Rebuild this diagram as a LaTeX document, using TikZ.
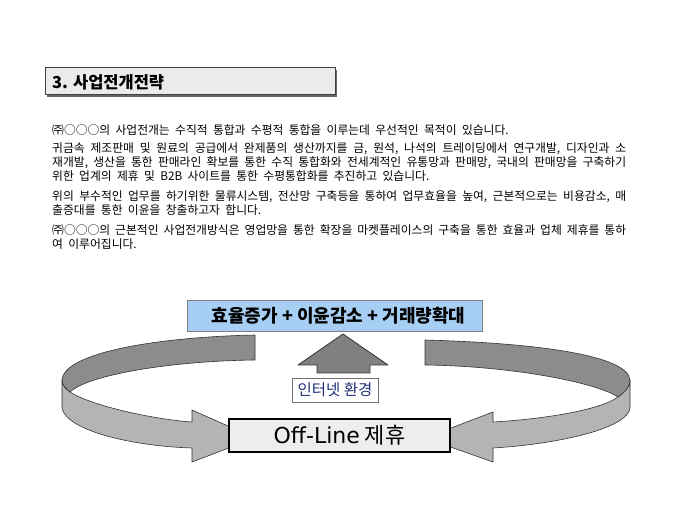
\documentclass[tikz,border=0pt]{standalone}
\usepackage{fontspec}
\setmainfont{Noto Sans CJK KR}
\newfontfamily\widelatin{DejaVu Sans}
\usetikzlibrary{positioning}
\definecolor{titlefill}{HTML}{EBEBEB}
\definecolor{goalfill}{HTML}{A7CEF3}
\definecolor{linkfill}{HTML}{EDEDED}
\definecolor{backgray}{HTML}{8C8C8C}
\definecolor{frontgray}{HTML}{B4B4B4}
\definecolor{upgray}{HTML}{808080}
\definecolor{netblue}{HTML}{1F2F7A}
\tikzset{
  titlebox/.style={draw=black!75, line width=1pt, fill=titlefill, minimum width=290, minimum height=27, inner sep=0pt},
  bodytext/.style={anchor=north west, inner sep=0pt, text width=574, align=justify,
    font={\fontsize{11.8}{14}\selectfont\spaceskip=0.45em plus 0.4em minus 0.15em\relax}},
  goalbox/.style={draw=black!50, line width=0.8pt, fill=goalfill, minimum width=295, minimum height=31, inner sep=0pt,
    font=\fontsize{18}{21}\selectfont\bfseries},
  netbox/.style={draw=black!55, line width=0.8pt, fill=white, minimum width=86, minimum height=24, inner sep=0pt,
    text=netblue, font=\fontsize{15.5}{18}\selectfont},
  linkbox/.style={draw=black, line width=2pt, fill=linkfill, minimum width=221, minimum height=33, inner sep=0pt,
    font=\fontsize{22}{25}\selectfont},
  backband/.style={fill=backgray, draw=black!80, line width=0.6pt, line join=round},
  frontband/.style={fill=frontgray, draw=black!80, line width=0.6pt, line join=round}
}
\begin{document}
\begin{tikzpicture}[x=1pt, y=-1pt]
\useasboundingbox (0,0) rectangle (680,510);
\fill[black!60] (47,70) rectangle (337,97);
\node[titlebox] (title) at (190,81.5) {};
\node[anchor=west, inner sep=0pt, font=\fontsize{16.5}{19}\selectfont\bfseries] (titletext) at (52,82) {3. 사업전개전략};

\node[bodytext] (para1) at (52,124) {㈜○○○의 사업전개는 수직적 통합과  수평적 통합을 이루는데 우선적인 목적이 있습니다.};
\node[bodytext] (para2) at (52,142.5) {귀금속 제조판매 및 원료의 공급에서 완제품의 생산까지를 금, 원석, 나석의 트레이딩에서 연구개발, 디자인과 소\linebreak 재개발, 생산을 통한 판매라인 확보를 통한 수직 통합화와 전세계적인 유통망과 판매망, 국내의 판매망을 구축하기\linebreak 위한 업계의 제휴 및  B2B 사이트를 통한 수평통합화를 추진하고 있습니다.};
\node[bodytext] (para3) at (52,190.5) {위의 부수적인 업무를 하기위한 물류시스템, 전산망 구축등을 통하여 업무효율을 높여, 근본적으로는 비용감소, 매\linebreak 출증대를 통한 이윤을 창출하고자 합니다.};
\node[bodytext] (para4) at (52,224.5) {㈜○○○의 근본적인 사업전개방식은 영업망을 통한 확장을 마켓플레이스의 구축을 통한 효율과 업체 제휴를 통하\linebreak 여 이루어집니다.};

\node[goalbox] (goal) at (334.5,315.5) {\hspace*{8pt}효율증가 + 이윤감소 + 거래량확대};
\node[netbox] (net) at (335,390) {인터넷 환경};

\draw[fill=upgray, draw=black!80, line width=0.8pt, line join=round]
  (343,334) -- (388,365) -- (370,365) -- (370,373) -- (317,373) -- (317,365) -- (298,365) -- cycle;

\draw[backband] (255,335) .. controls (160,337) and (64,352) .. (62,380)
  .. controls (62,386) and (66,389) .. (70,392)
  .. controls (88,375) and (170,361) .. (255,360) -- cycle;
\draw[frontband] (62,380) -- (62,408) .. controls (66,430) and (130,446) .. (192,448)
  -- (192,462) -- (255,438) -- (192,410) -- (192,422)
  .. controls (150,419) and (90,405) .. (70,392)
  .. controls (66,389) and (62,386) .. (62,380) -- cycle;

\draw[backband] (425,340) .. controls (535,343) and (628,355) .. (630,380)
  .. controls (630,388) and (624,393) .. (618,397)
  .. controls (595,382) and (510,366) .. (425,365) -- cycle;
\draw[frontband] (630,380) -- (630,408) .. controls (628,428) and (560,444) .. (493,448)
  -- (493,462) -- (425,438) -- (493,412) -- (493,422)
  .. controls (545,419) and (600,410) .. (618,397)
  .. controls (624,393) and (630,388) .. (630,380) -- cycle;

\node[linkbox] (offline) at (339.5,435.5) {{\widelatin Off-Line} 제휴};
\end{tikzpicture}
\end{document}
